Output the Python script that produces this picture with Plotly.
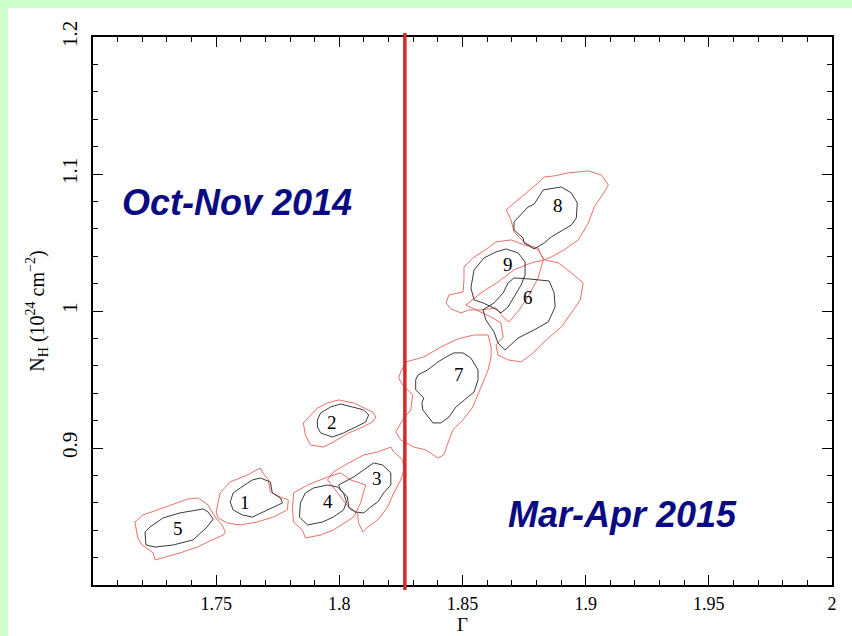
import plotly.graph_objects as go

# ---- contour data (Gamma, N_H) ----
c5_in_x = [1.7211,1.7215,1.7252,1.7325,1.7406,1.7463,1.7488,1.7467,1.7447,1.7353,1.7284,1.7231]
c5_in_y = [0.8387,0.8292,0.8277,0.8292,0.8329,0.8423,0.8482,0.8533,0.8555,0.8526,0.8489,0.8423]
c5_out_x = [1.7170,1.7203,1.7272,1.7341,1.7386,1.7427,1.7467,1.7496,1.7524,1.7537,1.7529,1.7484,1.7423,1.7353,1.7284,1.7252,1.7244,1.7219,1.7199,1.7182,1.7178]
c5_out_y = [0.8460,0.8511,0.8555,0.8599,0.8628,0.8635,0.8584,0.8496,0.8438,0.8387,0.8365,0.8329,0.8277,0.8234,0.8197,0.8183,0.8234,0.8270,0.8292,0.8343,0.8387]

c1_in_x = [1.7557,1.7569,1.7598,1.7647,1.7679,1.7720,1.7728,1.7761,1.7769,1.7732,1.7691,1.7647,1.7606,1.7569]
c1_in_y = [0.8606,0.8672,0.8708,0.8767,0.8781,0.8752,0.8672,0.8635,0.8599,0.8569,0.8533,0.8496,0.8511,0.8548]
c1_out_x = [1.7500,1.7516,1.7557,1.7626,1.7679,1.7687,1.7712,1.7720,1.7761,1.7793,1.7789,1.7732,1.7667,1.7598,1.7545,1.7508]
c1_out_y = [0.8533,0.8672,0.8752,0.8803,0.8854,0.8825,0.8767,0.8679,0.8642,0.8621,0.8548,0.8496,0.8460,0.8438,0.8453,0.8489]

c4_in_x = [1.7842,1.7862,1.7895,1.7952,1.7993,1.8017,1.8029,1.8017,1.7976,1.7932,1.7871,1.7838]
c4_in_y = [0.8599,0.8672,0.8708,0.8730,0.8715,0.8672,0.8606,0.8548,0.8496,0.8460,0.8438,0.8496]
c4_out_x = [1.7814,1.7871,1.7952,1.8005,1.8046,1.8107,1.8086,1.8058,1.7976,1.7924,1.7862,1.7850,1.7814,1.7810]
c4_out_y = [0.8672,0.8730,0.8788,0.8818,0.8767,0.8730,0.8599,0.8496,0.8402,0.8365,0.8343,0.8402,0.8460,0.8548]

c3_in_x = [1.7997,1.8058,1.8099,1.8139,1.8176,1.8209,1.8209,1.8180,1.8156,1.8127,1.8099,1.8066,1.8038,1.8033,1.8005]
c3_in_y = [0.8730,0.8788,0.8840,0.8891,0.8876,0.8818,0.8730,0.8672,0.8606,0.8569,0.8526,0.8533,0.8569,0.8642,0.8694]
c3_out_x = [1.7952,1.7976,1.8038,1.8099,1.8156,1.8209,1.8221,1.8257,1.8262,1.8249,1.8221,1.8196,1.8156,1.8115,1.8095,1.8078,1.8074,1.8046]
c3_out_y = [0.8767,0.8825,0.8891,0.8949,0.8971,0.9007,0.8971,0.8913,0.8840,0.8767,0.8672,0.8569,0.8475,0.8423,0.8387,0.8453,0.8526,0.8548]

c2_in_x = [1.7911,1.7924,1.7964,1.8005,1.8054,1.8099,1.8119,1.8107,1.8066,1.8017,1.7972,1.7924,1.7911]
c2_in_y = [0.9205,0.9256,0.9299,0.9321,0.9299,0.9278,0.9241,0.9190,0.9153,0.9110,0.9080,0.9110,0.9153]
c2_out_x = [1.7854,1.7875,1.7911,1.7952,1.7997,1.8058,1.8095,1.8135,1.8148,1.8135,1.8095,1.8038,1.7976,1.7936,1.7883,1.7862]
c2_out_y = [0.9183,0.9226,0.9292,0.9329,0.9351,0.9329,0.9299,0.9263,0.9226,0.9190,0.9153,0.9110,0.9044,0.9007,0.9022,0.9095]

c7_in_x = [1.8310,1.8319,1.8359,1.8400,1.8433,1.8465,1.8502,1.8534,1.8563,1.8563,1.8547,1.8506,1.8473,1.8445,1.8412,1.8380,1.8363,1.8339,1.8335,1.8343,1.8310]
c7_in_y = [0.9497,0.9533,0.9570,0.9628,0.9664,0.9694,0.9694,0.9657,0.9570,0.9497,0.9409,0.9351,0.9299,0.9226,0.9183,0.9183,0.9226,0.9278,0.9329,0.9365,0.9424]
c7_out_x = [1.8249,1.8270,1.8343,1.8412,1.8481,1.8547,1.8604,1.8616,1.8616,1.8604,1.8575,1.8542,1.8502,1.8461,1.8441,1.8424,1.8400,1.8351,1.8302,1.8249,1.8229,1.8257,1.8290,1.8298,1.8257,1.8241]
c7_out_y = [0.9555,0.9628,0.9664,0.9737,0.9796,0.9825,0.9825,0.9737,0.9664,0.9570,0.9445,0.9299,0.9205,0.9132,0.9037,0.8949,0.8927,0.8986,0.9007,0.9059,0.9117,0.9205,0.9278,0.9387,0.9460,0.9511]

c9_in_x = [1.8534,1.8547,1.8587,1.8636,1.8677,1.8726,1.8754,1.8754,1.8738,1.8709,1.8685,1.8656,1.8628,1.8583,1.8547]
c9_in_y = [1.0168,1.0300,1.0387,1.0431,1.0453,1.0424,1.0358,1.0263,1.0190,1.0102,1.0029,0.9986,1.0022,1.0059,1.0081]
c9_out_x = [1.8433,1.8445,1.8502,1.8506,1.8506,1.8542,1.8604,1.8636,1.8697,1.8750,1.8807,1.8828,1.8807,1.8770,1.8730,1.8689,1.8665,1.8636,1.8575,1.8526,1.8494,1.8453]
c9_out_y = [1.0059,1.0117,1.0139,1.0227,1.0321,1.0387,1.0460,1.0504,1.0519,1.0482,1.0460,1.0373,1.0241,1.0117,1.0008,0.9920,0.9956,1.0022,1.0008,1.0008,0.9986,1.0015]

c6_in_x = [1.8709,1.8770,1.8852,1.8872,1.8876,1.8848,1.8791,1.8726,1.8673,1.8644,1.8628,1.8595,1.8583,1.8628,1.8665,1.8685]
c6_in_y = [1.0241,1.0234,1.0219,1.0132,1.0029,0.9920,0.9862,0.9803,0.9716,0.9767,0.9847,0.9935,1.0008,1.0059,1.0132,1.0205]
c6_out_x = [1.8514,1.8575,1.8644,1.8709,1.8779,1.8832,1.8889,1.8942,1.8990,1.8978,1.8942,1.8901,1.8840,1.8787,1.8738,1.8685,1.8644,1.8636,1.8665,1.8656,1.8616,1.8575]
c6_out_y = [1.0044,1.0132,1.0212,1.0300,1.0351,1.0373,1.0351,1.0278,1.0205,1.0081,0.9986,0.9883,0.9789,0.9694,0.9628,0.9643,0.9679,0.9752,0.9810,0.9913,0.9956,0.9993]

c8_in_x = [1.8709,1.8766,1.8791,1.8828,1.8901,1.8942,1.8966,1.8962,1.8942,1.8889,1.8860,1.8832,1.8791,1.8750,1.8746,1.8709]
c8_in_y = [1.0650,1.0759,1.0781,1.0884,1.0905,1.0862,1.0789,1.0679,1.0628,1.0570,1.0540,1.0497,1.0453,1.0497,1.0533,1.0592]
c8_out_x = [1.8677,1.8726,1.8766,1.8807,1.8832,1.8872,1.8929,1.9011,1.9064,1.9092,1.9076,1.9035,1.9011,1.8970,1.8913,1.8860,1.8832,1.8819,1.8807,1.8750,1.8709,1.8697]
c8_out_y = [1.0738,1.0811,1.0869,1.0935,1.0978,1.0986,1.1008,1.1022,1.0993,1.0920,1.0869,1.0759,1.0643,1.0519,1.0446,1.0394,1.0373,1.0409,1.0446,1.0504,1.0577,1.0665]

label_text = ["5", "1", "2", "4", "3", "7", "9", "6", "8"]
label_x = [1.7345, 1.7618, 1.7972, 1.7952, 1.8152, 1.8486, 1.8685, 1.8766, 1.8889]
label_y = [0.8416, 0.8599, 0.9183, 0.8606, 0.8781, 0.9533, 1.0343, 1.0095, 1.0767]

period_text = ["Oct-Nov 2014", "Mar-Apr 2015"]
period_x = [1.7586, 1.9149]
period_y = [1.0789, 0.8511]

split_gamma = 1.8266
x_ticks = [1.75, 1.8, 1.85, 1.9, 1.95, 2.0]
x_tick_text = ["1.75", "1.8", "1.85", "1.9", "1.95", "2"]
y_ticks = [0.9, 1.0, 1.1, 1.2]
y_tick_text = ["0.9", "1", "1.1", "1.2"]

inner = [(c5_in_x, c5_in_y), (c1_in_x, c1_in_y), (c4_in_x, c4_in_y), (c3_in_x, c3_in_y),
         (c2_in_x, c2_in_y), (c7_in_x, c7_in_y), (c9_in_x, c9_in_y), (c6_in_x, c6_in_y), (c8_in_x, c8_in_y)]
outer = [(c5_out_x, c5_out_y), (c1_out_x, c1_out_y), (c4_out_x, c4_out_y), (c3_out_x, c3_out_y),
         (c2_out_x, c2_out_y), (c7_out_x, c7_out_y), (c9_out_x, c9_out_y), (c6_out_x, c6_out_y), (c8_out_x, c8_out_y)]

RED = "#e8706a"
DARK = "#3a3a3a"
SERIF = "Liberation Serif"

fig = go.Figure()
for xs, ys in outer:
    fig.add_trace(go.Scatter(x=xs + xs[:1], y=ys + ys[:1], mode="lines",
                             line=dict(color=RED, width=1), hoverinfo="skip"))
for xs, ys in inner:
    fig.add_trace(go.Scatter(x=xs + xs[:1], y=ys + ys[:1], mode="lines",
                             line=dict(color=DARK, width=1), hoverinfo="skip"))

for t, x, y in zip(label_text, label_x, label_y):
    fig.add_annotation(x=x, y=y, xref="x", yref="y", text=t, showarrow=False,
                       font=dict(family=SERIF, size=19, color="black"))
for t, x, y in zip(period_text, period_x, period_y):
    fig.add_annotation(x=x, y=y, xref="x", yref="y", text=t, showarrow=False,
                       font=dict(family="Liberation Sans", size=36, color="#0a0a82",
                                 weight="bold", style="italic"))

W, H = 852, 636
ml, mr, mt, mb = 93, 20, 37, 51
pw, ph = W - ml - mr, H - mt - mb

# white panel on the green page
fig.add_shape(type="rect", xref="paper", yref="paper",
              x0=-(ml - 8) / pw, x1=1 + (mr + 5) / pw,
              y0=-(mb + 5) / ph, y1=1 + (mt - 8) / ph,
              fillcolor="white", line=dict(width=0), layer="below")
# separating line
fig.add_shape(type="line", xref="x", yref="paper", x0=split_gamma, x1=split_gamma,
              y0=-5 / ph, y1=1 + 4 / ph, line=dict(color="#d42a2a", width=3.5))

axis_common = dict(showline=True, linecolor="black", linewidth=1.5, mirror="ticks",
                   ticks="inside", ticklen=10, tickwidth=1.3, tickcolor="black",
                   showgrid=False, zeroline=False, automargin=False)

fig.update_xaxes(range=[1.7, 2.0], tickvals=x_ticks, ticktext=x_tick_text,
                 tickfont=dict(family=SERIF, size=18, color="black"), ticklabelstandoff=2,
                 minor=dict(dtick=0.01, tick0=1.7, ticks="inside", ticklen=5, tickwidth=1.2, tickcolor="black"),
                 title=dict(text="Γ", font=dict(family=SERIF, size=19, color="black"), standoff=4),
                 **axis_common)
fig.update_yaxes(range=[0.8, 1.2], tickvals=y_ticks, ticktext=y_tick_text, tickangle=-90,
                 tickfont=dict(family=SERIF, size=21, color="black"), ticklabelstandoff=6,
                 minor=dict(dtick=0.02, tick0=0.8, ticks="inside", ticklen=5, tickwidth=1.2, tickcolor="black"),
                 title=dict(text="N<sub>H</sub> (10<sup>24</sup> cm<sup>−2</sup>)",
                            font=dict(family=SERIF, size=20, color="black"), standoff=8),
                 **axis_common)

fig.update_layout(width=W, height=H, margin=dict(l=ml, r=mr, t=mt, b=mb, autoexpand=False),
                  paper_bgcolor="#ccffcc", plot_bgcolor="white", showlegend=False)

fig.write_html("out.html")
